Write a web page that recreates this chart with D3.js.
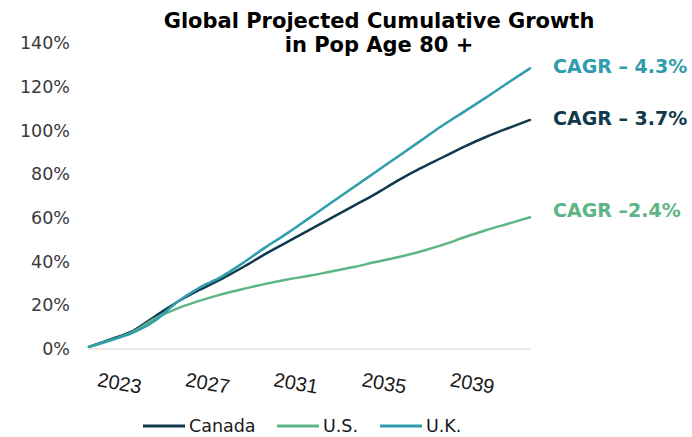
<!DOCTYPE html>
<html>
<head>
<meta charset="utf-8">
<script src="https://cdn.jsdelivr.net/npm/d3@7/dist/d3.min.js"></script>
<style>
  html, body { margin: 0; padding: 0; background: #ffffff; }
  svg { display: block; }
</style>
</head>
<body>
<svg id="chart" width="692" height="437"></svg>
<script>
// Cumulative growth of the 80+ population, relative to 2022
const years = d3.range(2022, 2043);
const canada = [1, 4.5, 8.3, 15, 21.5, 27, 32, 37.5, 43.5, 49, 54.5, 60, 65.5, 71, 77, 82.5, 87.5, 92.5, 97, 101, 104.8];
const us     = [1, 4, 8, 14, 18.5, 22, 25, 27.5, 29.8, 31.8, 33.5, 35.5, 37.5, 39.8, 42, 44.5, 47.5, 51, 54.3, 57.3, 60.3];
const uk     = [1, 4.2, 7.5, 13, 21.5, 28, 33, 39.5, 46.5, 53, 60, 67, 74, 81, 88, 95, 102, 108.5, 115, 121.8, 128.4];

const seriesNames = ["Canada", "U.S.", "U.K."];
const seriesColors = ["#103a4b", "#5db585", "#2f9dac"];
const cagrLabels = ["CAGR \u2013 3.7%", "CAGR \u20132.4%", "CAGR \u2013 4.3%"];
const yTicks = [0, 20, 40, 60, 80, 100, 120, 140];
const xTicks = [2023, 2027, 2031, 2035, 2039];
const titleLines = ["Global Projected Cumulative Growth", "in Pop Age 80 +"];

const series = [canada, us, uk].map((vals, i) => ({
  name: seriesNames[i],
  color: seriesColors[i],
  label: cagrLabels[i],
  values: vals.map((v, j) => ({ year: years[j], value: v }))
}));

const svg = d3.select("#chart");
const x = d3.scaleLinear().domain([2022, 2042]).range([89, 530]);
const y = d3.scaleLinear().domain([0, 140]).range([349, 43]);

// title
svg.append("g").selectAll("text").data(titleLines).join("text")
  .attr("x", 379)
  .attr("y", (d, i) => 21 + i * 24)
  .attr("text-anchor", "middle")
  .attr("dominant-baseline", "central")
  .attr("font-family", "DejaVu Sans, Verdana, sans-serif")
  .attr("font-weight", "bold")
  .attr("font-size", 21)
  .attr("fill", "#000")
  .text(d => d);

// y axis labels
const yAxis = d3.axisLeft(y).tickValues(yTicks).tickFormat(d => d + "%").tickSize(0).tickPadding(18);
const gy = svg.append("g").attr("transform", "translate(88,0)").call(yAxis);
gy.select(".domain").remove();
gy.selectAll("text")
  .attr("font-family", "DejaVu Sans, Verdana, sans-serif")
  .attr("font-size", 17.5)
  .attr("fill", "#3a3a3a");

// baseline
svg.append("line")
  .attr("x1", 88).attr("x2", 530)
  .attr("y1", y(0)).attr("y2", y(0))
  .attr("stroke", "#e3e1dc").attr("stroke-width", 1.5);

// x axis labels, tilted
const xAxis = d3.axisBottom(x).tickValues(xTicks).tickFormat(d3.format("d")).tickSize(0);
const gx = svg.append("g").attr("transform", `translate(0,${y(0)})`).call(xAxis);
gx.select(".domain").remove();
gx.selectAll(".tick text")
  .attr("font-family", "Liberation Sans, Arial, sans-serif")
  .attr("font-size", 20)
  .attr("fill", "#1a1a1a")
  .attr("text-anchor", "middle")
  .attr("dy", null)
  .attr("y", 0)
  .attr("dominant-baseline", "central")
  .attr("transform", "translate(8,34) rotate(10)");

// lines
const line = d3.line().curve(d3.curveMonotoneX).x(d => x(d.year)).y(d => y(d.value));
svg.append("g").selectAll("path").data(series).join("path")
  .attr("d", d => line(d.values))
  .attr("fill", "none")
  .attr("stroke", d => d.color)
  .attr("stroke-width", 2.5)
  .attr("stroke-linejoin", "round")
  .attr("stroke-linecap", "round");

// CAGR labels at the line ends
const labelY = { "Canada": 118, "U.S.": 210, "U.K.": 66 };
svg.append("g").selectAll("text").data(series).join("text")
  .attr("x", 553)
  .attr("y", d => labelY[d.name])
  .attr("dominant-baseline", "central")
  .attr("font-family", "DejaVu Sans, Verdana, sans-serif")
  .attr("font-weight", "bold")
  .attr("font-size", 19)
  .attr("fill", d => d.color)
  .text(d => d.label);

// legend
const legendX = [143, 277, 380];
const lg = svg.append("g").selectAll("g").data(series).join("g")
  .attr("transform", (d, i) => `translate(${legendX[i]},426)`);
lg.append("line").attr("x1", 0).attr("x2", 42).attr("y1", 0).attr("y2", 0)
  .attr("stroke", d => d.color).attr("stroke-width", 3);
lg.append("text").attr("x", 46).attr("y", 0)
  .attr("dominant-baseline", "central")
  .attr("font-family", "DejaVu Sans, Verdana, sans-serif")
  .attr("font-size", 17.5)
  .attr("fill", "#1a1a1a")
  .text(d => d.name);
</script>
</body>
</html>
